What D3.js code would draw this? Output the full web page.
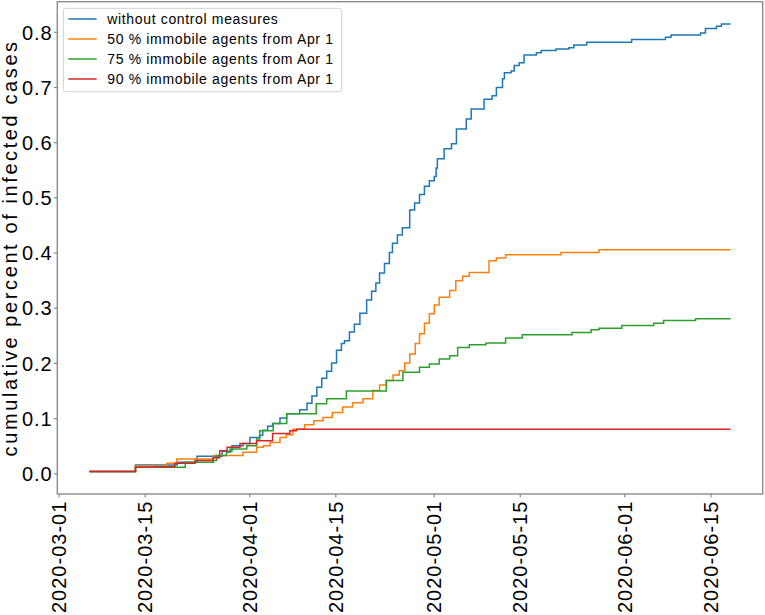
<!DOCTYPE html>
<html>
<head>
<meta charset="utf-8">
<script src="https://cdn.jsdelivr.net/npm/d3@7"></script>
<style>
  body { margin: 0; background: #fff; }
  svg { display: block; font-family: "Liberation Sans", Arial, sans-serif; }
</style>
</head>
<body>
<svg id="chart" width="765" height="615"></svg>
<script>
// day offsets counted from 2020-03-01, cumulative share of infected agents
const startDate = new Date(2020, 2, 1);

const blueDays = [5, 12.5, 19.3, 22.5, 26.6, 28.2, 30, 31.1, 32.7, 33.2, 34, 34.8, 36, 37.1, 39.2, 40.4, 41.2, 42, 42.8, 43.6, 44.4, 45.2, 46, 46.5, 47.3, 48.1, 49, 50.1, 50.9, 51.6, 52.2, 53, 53.8, 54.3, 55.1, 55.9, 57.1, 57.9, 58.7, 59.5, 60.3, 61.1, 61.4, 61.6, 62.7, 63.9, 64.7, 66.3, 67.1, 69.2, 70.5, 71.2, 72.2, 72.5, 73.6, 74.1, 74.9, 75.7, 77.7, 78.5, 80.9, 83, 83.8, 85.9, 93.2, 98.7, 99.6, 104.4, 105.2, 107, 107.8, 109.3];
const blueVals = [0.003, 0.015, 0.02, 0.031, 0.04, 0.05, 0.054, 0.065, 0.069, 0.078, 0.085, 0.09, 0.1, 0.108, 0.115, 0.127, 0.14, 0.156, 0.172, 0.185, 0.2, 0.223, 0.235, 0.24, 0.256, 0.27, 0.29, 0.314, 0.33, 0.345, 0.363, 0.38, 0.4, 0.417, 0.432, 0.445, 0.477, 0.49, 0.505, 0.52, 0.53, 0.538, 0.553, 0.57, 0.588, 0.597, 0.624, 0.642, 0.66, 0.678, 0.684, 0.699, 0.715, 0.726, 0.729, 0.739, 0.744, 0.758, 0.762, 0.766, 0.769, 0.771, 0.776, 0.781, 0.786, 0.79, 0.794, 0.798, 0.806, 0.81, 0.814, 0.814];

const orangeDays = [5, 12.5, 17.6, 19.2, 25.2, 30, 32.2, 33.3, 34.4, 36, 37, 38.1, 40, 41.5, 43, 44.5, 46.2, 47.8, 49.5, 51.1, 52.2, 53.3, 54.4, 55.4, 56.3, 57.1, 58, 58.7, 59.5, 60.3, 61.1, 61.9, 63.6, 64.6, 65.7, 66.8, 70, 71.2, 72.7, 81.7, 87.9, 109.3];
const orangeVals = [0.003, 0.013, 0.018, 0.026, 0.032, 0.038, 0.047, 0.05, 0.056, 0.065, 0.07, 0.08, 0.088, 0.095, 0.101, 0.11, 0.12, 0.128, 0.135, 0.15, 0.16, 0.168, 0.178, 0.186, 0.2, 0.216, 0.235, 0.253, 0.272, 0.289, 0.305, 0.319, 0.331, 0.349, 0.357, 0.364, 0.385, 0.39, 0.396, 0.4, 0.405, 0.405];

const greenDays = [5, 12.5, 20.6, 25.2, 25.7, 27.3, 27.9, 30.6, 32.2, 32.7, 34.9, 37.1, 41.9, 43.6, 46.8, 53.3, 56, 58.7, 60.3, 61.9, 63.6, 64.9, 66.8, 69.5, 72.7, 75.4, 83.5, 86.6, 87.9, 91.6, 96.8, 98.4, 103.6, 109.3];
const greenVals = [0.003, 0.011, 0.02, 0.023, 0.032, 0.038, 0.044, 0.05, 0.062, 0.077, 0.09, 0.108, 0.126, 0.135, 0.149, 0.168, 0.183, 0.192, 0.198, 0.207, 0.213, 0.228, 0.233, 0.236, 0.245, 0.251, 0.255, 0.26, 0.263, 0.268, 0.272, 0.277, 0.28, 0.28];

const redDays = [5, 12.5, 15.7, 18.9, 22.2, 25.1, 26.2, 27.4, 29.5, 32.2, 34.8, 37.6, 38.7, 109.3];
const redVals = [0.003, 0.011, 0.012, 0.018, 0.023, 0.028, 0.041, 0.047, 0.054, 0.059, 0.072, 0.077, 0.08, 0.08];

const seriesNames = [
  "without control measures",
  "50 % immobile agents from Apr 1",
  "75 % immobile agents from Aor 1",
  "90 % immobile agents from Apr 1"
];
const seriesColors = ["#1f77b4", "#ff7f0e", "#2ca02c", "#d62728"];
const xTickDates = ["2020-03-01", "2020-03-15", "2020-04-01", "2020-04-15", "2020-05-01", "2020-05-15", "2020-06-01", "2020-06-15"];
const yTickVals = [0, 0.1, 0.2, 0.3, 0.4, 0.5, 0.6, 0.7, 0.8];

const toDate = d => new Date(startDate.getTime() + d * 86400000);
const series = [
  [blueDays, blueVals],
  [orangeDays, orangeVals],
  [greenDays, greenVals],
  [redDays, redVals]
].map(([days, vals], i) => ({
  name: seriesNames[i],
  color: seriesColors[i],
  points: days.map((d, j) => ({ date: toDate(d), value: vals[j] }))
}));

// zone de tracé
const svg = d3.select("#chart");
const plotLeft = 57.3, plotRight = 762.7, plotTop = 1.7, plotBottom = 494;
const frameColor = "#8c8c8c";

// marges de 5 % comme matplotlib
const allPts = series.flatMap(s => s.points);
const [t0, t1] = d3.extent(allPts, p => p.date);
const padT = (t1 - t0) * 0.05;
const [v0, v1] = d3.extent(allPts, p => p.value);
const padV = (v1 - v0) * 0.05;

const x = d3.scaleTime()
  .domain([new Date(+t0 - padT), new Date(+t1 + padT)])
  .range([plotLeft, plotRight]);
const y = d3.scaleLinear()
  .domain([v0 - padV, v1 + padV])
  .range([plotBottom, plotTop]);

// axes
const parse = d3.timeParse("%Y-%m-%d");
const xAxis = d3.axisBottom(x)
  .tickValues(xTickDates.map(parse))
  .tickFormat(d3.timeFormat("%Y-%m-%d"))
  .tickSize(3.5);
const gx = svg.append("g").attr("transform", `translate(0,${plotBottom})`).call(xAxis);
gx.select(".domain").remove();
gx.selectAll(".tick line").attr("stroke", frameColor).attr("stroke-width", 1.2);
gx.selectAll(".tick text")
  .attr("x", 0).attr("y", 0).attr("dy", "0.36em")
  .attr("transform", "translate(0,6.7) rotate(-90)")
  .attr("text-anchor", "end")
  .attr("fill", "#000")
  .style("font-size", "20px")
  .style("letter-spacing", "1px")
  .style("font-family", "'Liberation Sans', Arial, sans-serif");

const yAxis = d3.axisLeft(y)
  .tickValues(yTickVals)
  .tickFormat(d3.format(".1f"))
  .tickSize(3.5)
  .tickPadding(1.1);
const gy = svg.append("g").attr("transform", `translate(${plotLeft},0)`).call(yAxis);
gy.select(".domain").remove();
gy.selectAll(".tick line").attr("stroke", frameColor).attr("stroke-width", 1.2);
gy.selectAll(".tick text")
  .attr("dy", "0.36em")
  .attr("fill", "#000")
  .style("font-size", "20px")
  .style("letter-spacing", "1px")
  .style("font-family", "'Liberation Sans', Arial, sans-serif");

svg.append("text")
  .attr("transform", `translate(16.5,${(plotTop + plotBottom) / 2}) rotate(-90)`)
  .attr("text-anchor", "middle")
  .style("font-size", "20px")
  .style("letter-spacing", "2.6px")
  .attr("fill", "#000")
  .text("cumulative percent of infected cases");

// courbes en escalier
const line = d3.line()
  .x(p => x(p.date))
  .y(p => y(p.value))
  .curve(d3.curveStepAfter);

svg.append("g")
  .selectAll("path")
  .data(series)
  .enter().append("path")
  .attr("d", s => line(s.points))
  .attr("fill", "none")
  .attr("stroke", s => s.color)
  .attr("stroke-width", 1.5);

// cadre
svg.append("rect")
  .attr("x", plotLeft).attr("y", plotTop)
  .attr("width", plotRight - plotLeft).attr("height", plotBottom - plotTop)
  .attr("fill", "none")
  .attr("stroke", frameColor)
  .attr("stroke-width", 1.4);

// légende
const legend = svg.append("g");
legend.append("rect")
  .attr("x", 63.3).attr("y", 8.3)
  .attr("width", 278.4).attr("height", 83.4)
  .attr("rx", 3)
  .attr("fill", "#fff").attr("fill-opacity", 0.8)
  .attr("stroke", "#d0d0d0").attr("stroke-width", 1);

const rows = legend.selectAll(".row")
  .data(series)
  .enter().append("g")
  .attr("transform", (s, i) => `translate(0,${19 + i * 20})`);
rows.append("line")
  .attr("x1", 68.3).attr("x2", 96.7)
  .attr("stroke", s => s.color)
  .attr("stroke-width", 1.5);
rows.append("text")
  .attr("x", 107.3).attr("y", 5)
  .style("font-size", "14px")
  .style("letter-spacing", "0.65px")
  .attr("fill", "#000")
  .text(s => s.name);
</script>
</body>
</html>
